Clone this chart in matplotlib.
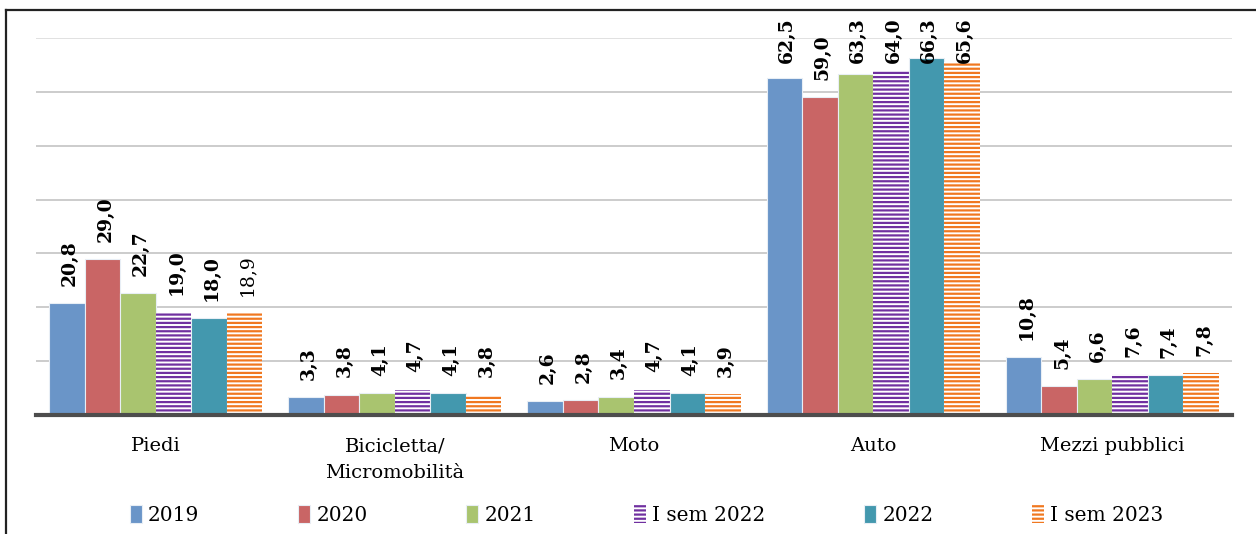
import numpy as np
import matplotlib
matplotlib.use("Agg")
import matplotlib.pyplot as plt
from matplotlib.lines import Line2D

categories = ["Piedi", "Bicicletta/\nMicromobilità", "Moto", "Auto", "Mezzi pubblici"]
series = ["2019", "2020", "2021", "I sem 2022", "2022", "I sem 2023"]
v2019 = [20.8, 3.3, 2.6, 62.5, 10.8]
v2020 = [29.0, 3.8, 2.8, 59.0, 5.4]
v2021 = [22.7, 4.1, 3.4, 63.3, 6.6]
v_isem2022 = [19.0, 4.7, 4.7, 64.0, 7.6]
v2022 = [18.0, 4.1, 4.1, 66.3, 7.4]
v_isem2023 = [18.9, 3.8, 3.9, 65.6, 7.8]
values = [v2019, v2020, v2021, v_isem2022, v2022, v_isem2023]

colors = ["#6a95c8", "#c96565", "#a9c46f", "#7030a0", "#4398ae", "#f07820"]
hatched = [False, False, False, True, False, True]

plt.rcParams["hatch.linewidth"] = 1.6
serif = ["DejaVu Serif"]

fig = plt.figure(figsize=(12.56, 5.34), dpi=100)
ax = fig.add_axes([36 / 1256, 119 / 534, (1232 - 36) / 1256, (415 - 38) / 534])

x = np.arange(len(categories))
w = 0.1485
for i, (name, vals) in enumerate(zip(series, values)):
    pos = x + (i - 2.5) * w
    if hatched[i]:
        bars = ax.bar(pos, vals, w, facecolor="white", edgecolor=colors[i],
                      hatch="----", linewidth=0, label=name, zorder=3)
    else:
        bars = ax.bar(pos, vals, w, color=colors[i], edgecolor="#e8eef5",
                      linewidth=0.8, label=name, zorder=3)
    for b, v in zip(bars, vals):
        bold = not (name == "I sem 2023" and v == 18.9)
        # labels sit above the bar, but are kept inside the chart area at the top
        ty = min(v + 3.2, 65.3)
        ax.text(b.get_x() + b.get_width() / 2 + 0.012, ty,
                f"{v:.1f}".replace(".", ","),
                rotation=90, ha="center", va="bottom",
                fontsize=13.5, family=serif,
                fontweight="bold" if bold else "normal",
                clip_on=False, zorder=5)

ax.set_xlim(-0.5, 4.5)
ax.set_ylim(0, 70)
ax.set_yticks(np.arange(10, 71, 10))
ax.yaxis.grid(True, color="#c4c4c4", linewidth=1.2, zorder=0)
ax.get_ygridlines()[-1].set_color("#dcdcdc")
ax.set_yticklabels([])
ax.tick_params(axis="both", length=0)
ax.set_xticks(x)
ax.set_xticklabels(categories, family=serif, fontsize=14, linespacing=1.6)
ax.tick_params(axis="x", pad=16)
for s in ["top", "right", "left"]:
    ax.spines[s].set_visible(False)
ax.spines["bottom"].set_color("#4d4d4d")
ax.spines["bottom"].set_linewidth(3)
ax.spines["bottom"].set_zorder(4)

fig.legend(loc="center", bbox_to_anchor=(0.515, 1 - 515 / 534), ncol=6,
           frameon=False, prop={"family": serif, "size": 14.5},
           handlelength=0.6, handleheight=1.0, handletextpad=0.3,
           columnspacing=4.9)

# outer frame (left and top edges only are visible in the crop)
fig.add_artist(Line2D([6 / 1256, 6 / 1256], [0, 1 - 10 / 534], color="#222222", lw=1.6))
fig.add_artist(Line2D([6 / 1256, 1.0], [1 - 10 / 534, 1 - 10 / 534], color="#222222", lw=1.6))

fig.savefig("out.png", dpi=100)
